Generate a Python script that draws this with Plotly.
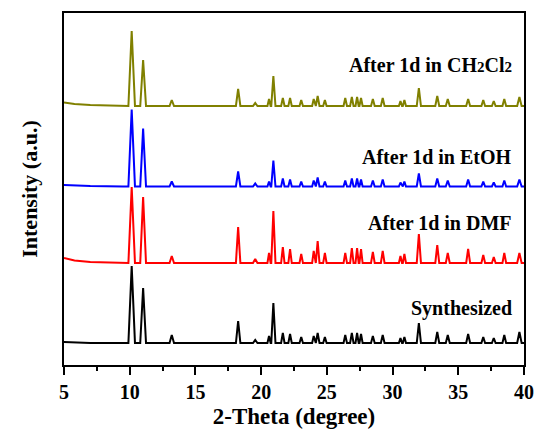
import plotly.graph_objects as go

# Peak positions (2-theta, degree)
peak_pos = [10.15, 11.02, 13.2, 18.25, 19.55, 20.6, 20.93, 21.65, 22.2, 23.05,
            24.0, 24.3, 24.85, 26.4, 26.9, 27.3, 27.6, 28.5, 29.25, 30.6,
            30.9, 32.0, 33.4, 34.2, 35.75, 36.9, 37.7, 38.5, 39.65]
peak_halfwidth = [0.25, 0.22, 0.17, 0.17, 0.17, 0.12, 0.16, 0.13, 0.13, 0.13,
                  0.12, 0.14, 0.13, 0.13, 0.13, 0.12, 0.12, 0.14, 0.14, 0.12,
                  0.12, 0.16, 0.15, 0.15, 0.15, 0.14, 0.14, 0.14, 0.17]

# Peak heights above baseline (a.u.) for each sample
h_synth = [77, 55, 8, 22, 3, 7, 40, 10, 9, 6, 7, 10, 6, 8, 10, 10, 9, 7, 8, 5,
           6, 20, 11, 8, 9, 6, 5, 8, 11]
h_dmf = [76, 66, 7, 36, 4, 10, 52, 16, 14, 9, 12, 22, 10, 10, 15, 15, 14, 11,
         12, 7, 9, 29, 18, 10, 14, 8, 6, 10, 10]
h_etoh = [77, 58, 5, 15, 3, 5, 26, 8, 7, 5, 6, 9, 5, 6, 8, 8, 7, 6, 7, 4, 5,
          13, 8, 6, 7, 5, 4, 6, 7]
h_dcm = [75, 46, 6, 17, 3, 7, 30, 8, 8, 6, 7, 10, 6, 8, 9, 9, 8, 7, 8, 5, 6,
         18, 10, 7, 7, 6, 5, 7, 9]

# Baseline (offset) of each stacked pattern, and start-of-scan background
base_synth, base_dmf, base_etoh, base_dcm = 22, 102, 178.5, 259
bg_x = [5, 5.8, 7.0, 9.5]
bg_synth = [1, 0.5, 0, 0]
bg_dmf = [5, 2.5, 1, 0]
bg_etoh = [1.5, 1, 0.5, 0]
bg_dcm = [3.5, 2, 1, 0]

labels = ["Synthesized", "After 1d in DMF", "After 1d in EtOH",
          "After 1d in CH<span style='font-size:15px'>2</span>Cl<span style='font-size:15px'>2</span>"]
label_y = [57, 142, 208, 300]
colors = ["#000000", "#FF0000", "#0000FF", "#808000"]

x_min, x_max = 5, 40


def pattern(heights, base, bg):
    xs = list(bg_x)
    ys = [base + v for v in bg]
    for p, w, h in zip(peak_pos, peak_halfwidth, heights):
        xs += [p - w, p, p + w]
        ys += [base, base + h, base]
    xs.append(x_max)
    ys.append(base)
    return xs, ys


fig = go.Figure()
series = [(h_synth, base_synth, bg_synth),
          (h_dmf, base_dmf, bg_dmf),
          (h_etoh, base_etoh, bg_etoh),
          (h_dcm, base_dcm, bg_dcm)]
for (h, b, bg), c in zip(series, colors):
    xs, ys = pattern(h, b, bg)
    fig.add_trace(go.Scatter(x=xs, y=ys, mode="lines",
                             line=dict(color=c, width=2), showlegend=False))

font_fam = "Times New Roman, Liberation Serif, serif"
for t, y in zip(labels, label_y):
    fig.add_annotation(x=39.25, y=y, text="<b>" + t + "</b>", showarrow=False,
                       xanchor="right", yanchor="middle",
                       font=dict(family=font_fam, size=20, color="black"))

fig.update_layout(
    width=539, height=432,
    margin=dict(l=64, r=15, t=13, b=67),
    plot_bgcolor="white", paper_bgcolor="white",
    font=dict(family=font_fam, color="black"),
)
fig.update_xaxes(
    range=[x_min, x_max], dtick=5, tick0=5, automargin=False,
    showline=True, linecolor="black", linewidth=2, mirror=True,
    ticks="outside", ticklen=8, tickwidth=2, tickcolor="black",
    minor=dict(dtick=2.5, tick0=5, ticks="outside", ticklen=4, tickwidth=2,
               tickcolor="black"),
    showgrid=False, zeroline=False,
    tickfont=dict(family=font_fam, size=20, weight="bold"),
    title=dict(text="<b>2-Theta (degree)</b>", standoff=6,
               font=dict(family=font_fam, size=23)),
)
fig.update_yaxes(
    range=[0, 352], automargin=False,
    showline=True, linecolor="black", linewidth=2, mirror=True,
    ticks="", showticklabels=False, showgrid=False, zeroline=False,
    title=dict(text="<b>Intensity (a.u.)</b>", standoff=18,
               font=dict(family=font_fam, size=22)),
)

fig.write_html("out.html")
